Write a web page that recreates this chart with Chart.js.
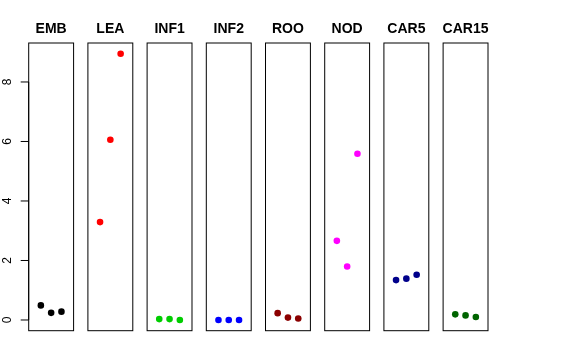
<!DOCTYPE html>
<html>
<head>
<meta charset="utf-8">
<script src="https://cdn.jsdelivr.net/npm/chart.js@4"></script>
<style>
html,body{margin:0;padding:0;background:#fff}
#wrap{width:576px;height:360px}
</style>
</head>
<body>
<div id="wrap"><canvas id="graph" width="576" height="360"></canvas></div>
<script>
// one panel per tissue, three replicates each
const categories = ['EMB', 'LEA', 'INF1', 'INF2', 'ROO', 'NOD', 'CAR5', 'CAR15'];
const colours = ['#000000', '#FF0000', '#00CD00', '#0000FF', '#8B0000', '#FF00FF', '#00008B', '#006400'];
const rep1 = [0.49, 3.29, 0.03, 0.00, 0.23, 2.66, 1.34, 0.19];
const rep2 = [0.24, 6.06, 0.03, 0.00, 0.08, 1.80, 1.39, 0.155];
const rep3 = [0.28, 8.95, 0.00, 0.00, 0.05, 5.59, 1.52, 0.10];
const yTicks = [0, 2, 4, 6, 8];

const gap = 5.75;   // panel spacing in x units
const half = 2.18;  // panel half width

const datasets = categories.map(function (c, i) {
  return {
    label: c,
    data: [
      {x: i * gap - 1, y: rep1[i]},
      {x: i * gap, y: rep2[i]},
      {x: i * gap + 1, y: rep3[i]}
    ],
    backgroundColor: colours[i],
    borderWidth: 0,
    pointRadius: 3.3,
    pointHoverRadius: 3.3
  };
});

const panels = {
  id: 'panels',
  afterDraw(chart) {
    const ctx = chart.ctx;
    const xs = chart.scales.x, ys = chart.scales.y;
    const top = chart.chartArea.top, bottom = chart.chartArea.bottom;
    ctx.save();
    ctx.strokeStyle = '#000';
    ctx.lineWidth = 1;
    ctx.fillStyle = '#000';
    ctx.font = 'bold 14px "Liberation Sans", Arial, sans-serif';
    ctx.textAlign = 'center';
    ctx.textBaseline = 'middle';
    categories.forEach(function (c, i) {
      const l = xs.getPixelForValue(i * gap - half);
      const r = xs.getPixelForValue(i * gap + half);
      ctx.strokeRect(l, top, r - l, bottom - top);
      ctx.fillText(c, (l + r) / 2, top - 14);
    });

    // y axis on the first panel
    const ax = xs.getPixelForValue(-half);
    ctx.beginPath();
    ctx.moveTo(ax, ys.getPixelForValue(yTicks[0]));
    ctx.lineTo(ax, ys.getPixelForValue(yTicks[yTicks.length - 1]));
    ctx.stroke();
    ctx.font = '12px "Liberation Sans", Arial, sans-serif';
    yTicks.forEach(function (t) {
      const py = ys.getPixelForValue(t);
      ctx.beginPath();
      ctx.moveTo(ax - 8, py);
      ctx.lineTo(ax, py);
      ctx.stroke();
      ctx.save();
      ctx.translate(ax - 21, py);
      ctx.rotate(-Math.PI / 2);
      ctx.fillText(String(t), 0, 0);
      ctx.restore();
    });
    ctx.restore();
  }
};

new Chart(document.getElementById('graph'), {
  type: 'scatter',
  data: {datasets: datasets},
  options: {
    responsive: false,
    devicePixelRatio: 1,
    animation: false,
    layout: {padding: {left: 28.7, right: 88, top: 43, bottom: 29.3}},
    plugins: {legend: {display: false}, tooltip: {enabled: false}},
    scales: {
      x: {type: 'linear', display: false, min: -half, max: 7 * gap + half},
      y: {type: 'linear', display: false, min: -0.36, max: 9.31}
    }
  },
  plugins: [panels]
});
</script>
</body>
</html>
